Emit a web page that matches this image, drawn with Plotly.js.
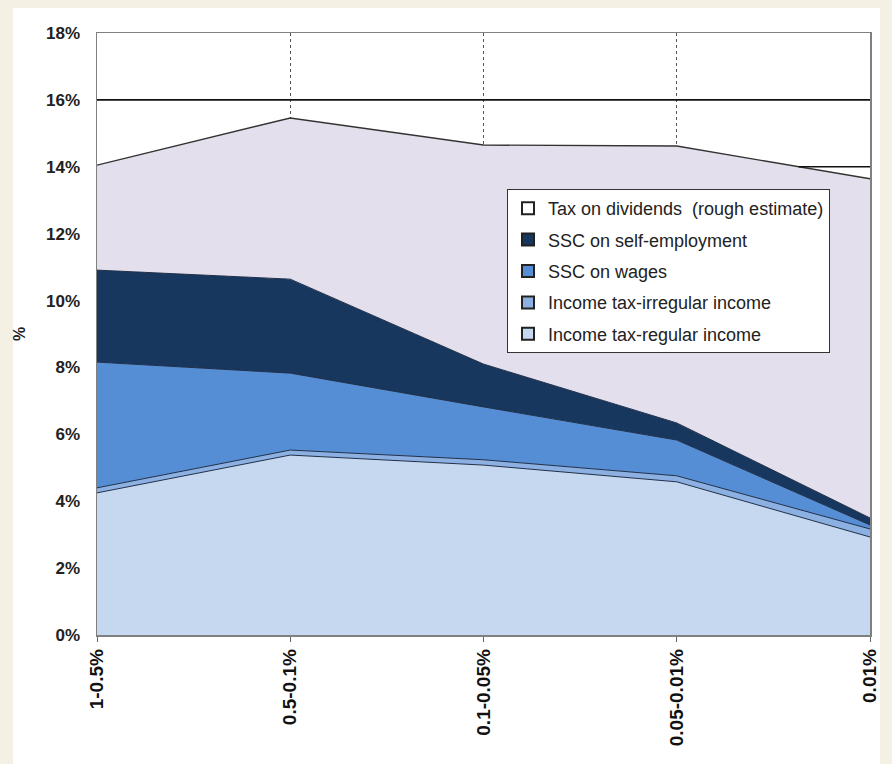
<!DOCTYPE html>
<html>
<head>
<meta charset="utf-8">
<script src="https://cdn.plot.ly/plotly-3.0.1.min.js"></script>
<style>
  html, body { margin: 0; padding: 0; background: #f5f0e4; }
  #chart { width: 892px; height: 764px; }
</style>
</head>
<body>
<div id="chart"></div>
<script>
// ---- data ----
const categories = ['1-0.5%', '0.5-0.1%', '0.1-0.05%', '0.05-0.01%', '0.01%'];
const xPos = [0, 1, 2, 3, 4];
const incomeTaxRegular   = [4.25, 5.38, 5.08, 4.58, 2.93];
const incomeTaxIrregular = [0.15, 0.15, 0.16, 0.18, 0.24];
const sscWages           = [3.76, 2.30, 1.58, 1.07, 0.12];
const sscSelfEmployment  = [2.75, 2.81, 1.28, 0.51, 0.21];
const taxDividends       = [3.14, 4.82, 6.55, 8.28, 10.14];
const refLine16X = [0, 4];
const refLine16Y = [16, 16];
const refLine14X = [3.63, 4];
const refLine14Y = [14, 14];
const seriesNames = [
  'Income tax-regular income',
  'Income tax-irregular income',
  'SSC on wages',
  'SSC on self-employment',
  'Tax on dividends  (rough estimate)'
];
const seriesValues = [incomeTaxRegular, incomeTaxIrregular, sscWages, sscSelfEmployment, taxDividends];
const seriesColors = ['#c6d8ef', '#8db0e2', '#558ed5', '#17375e', '#e4dfec'];
const legendColors = ['#c6d8ef', '#8db0e2', '#558ed5', '#17375e', '#ffffff'];
const edgeColors   = ['#1f2f4a', '#1f2f4a', '#1f2f4a', '#1f2f4a', '#333333'];
const edgeWidths   = [1, 1, 1, 1, 1.4];

const traces = [];
seriesValues.forEach((vals, i) => {
  traces.push({
    x: xPos, y: vals, type: 'scatter', mode: 'lines',
    stackgroup: 'one', fillcolor: seriesColors[i],
    line: {color: edgeColors[i], width: edgeWidths[i]},
    name: seriesNames[i], showlegend: false, hoverinfo: 'skip'
  });
});
traces.push({x: refLine16X, y: refLine16Y, type: 'scatter', mode: 'lines',
  line: {color: '#111', width: 1.6}, showlegend: false, hoverinfo: 'skip'});
traces.push({x: refLine14X, y: refLine14Y, type: 'scatter', mode: 'lines',
  line: {color: '#111', width: 1.6}, showlegend: false, hoverinfo: 'skip'});
// legend entries (top to bottom)
for (let i = seriesNames.length - 1; i >= 0; i--) {
  traces.push({
    x: [null], y: [null], type: 'scatter', mode: 'markers',
    name: seriesNames[i], legendgroup: 'g' + i,
    marker: {symbol: 'square', size: 9, color: legendColors[i],
             line: {color: '#222', width: 1}},
    showlegend: true, hoverinfo: 'skip'
  });
}

const L = 97, R = 22, T = 33, B = 129;
const W = 892, H = 764;
const pw = W - L - R, ph = H - T - B;

const layout = {
  width: W, height: H,
  margin: {l: L, r: R, t: T, b: B},
  paper_bgcolor: '#f5f0e4',
  plot_bgcolor: '#ffffff',
  font: {family: 'Liberation Sans, Arial, sans-serif', color: '#222'},
  shapes: [{
    type: 'rect', xref: 'paper', yref: 'paper', layer: 'below',
    x0: (13 - L) / pw, x1: (880 - L) / pw,
    y0: -B / ph, y1: (H - B - 8) / ph,
    fillcolor: '#ffffff', line: {width: 0}
  }],
  xaxis: {
    range: [0, 4], tickvals: xPos, ticktext: categories, tickangle: -90,
    ticks: 'outside', ticklen: 5, tickcolor: '#666',
    showgrid: true, griddash: 'dot', gridcolor: '#555', gridwidth: 1,
    showline: true, mirror: true, linecolor: '#808080', linewidth: 1.5,
    zeroline: false,
    tickfont: {size: 19, family: 'Liberation Sans, Arial, sans-serif', weight: 'bold', color: '#111'}
  },
  yaxis: {
    range: [0, 18], dtick: 2, ticksuffix: '%', ticks: '',
    ticklabelstandoff: 12,
    showgrid: false, zeroline: false,
    showline: true, mirror: true, linecolor: '#808080', linewidth: 1.5,
    tickfont: {size: 17, family: 'Liberation Sans, Arial, sans-serif', weight: 'bold', color: '#222'},
    title: {text: '%', standoff: 16, font: {size: 16, weight: 'bold', color: '#222'}}
  },
  legend: {
    x: (507 - L) / pw, y: (H - B - 189) / ph, xanchor: 'left', yanchor: 'top',
    bgcolor: '#ffffff', bordercolor: '#333', borderwidth: 1,
    traceorder: 'grouped', tracegroupgap: 5,
    font: {size: 18, family: 'Liberation Sans, Arial, sans-serif', color: '#222'},
    itemsizing: 'constant'
  },
  showlegend: true
};

Plotly.newPlot('chart', traces, layout, {displayModeBar: false, staticPlot: true});
</script>
</body>
</html>
